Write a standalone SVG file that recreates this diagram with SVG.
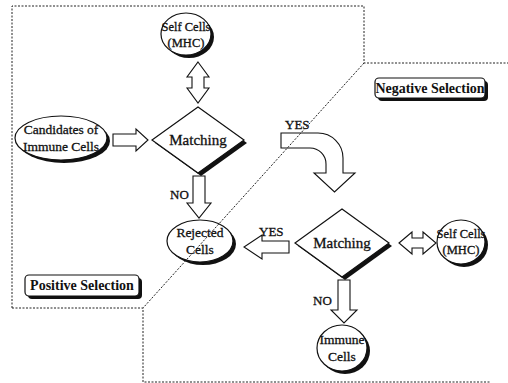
<svg xmlns="http://www.w3.org/2000/svg" width="508" height="383" viewBox="0 0 508 383" font-family="'Liberation Serif', 'DejaVu Serif', serif">
<style>
text{font-family:"Liberation Serif","DejaVu Serif",serif;font-size:13.5px;fill:#111;stroke:#111;stroke-width:0.3;text-anchor:middle}
.lbl{text-anchor:start;font-size:13px}
.sc{font-size:12.5px}
.node{fill:#fff;stroke:#111;stroke-width:1.2}
.sh{fill:#111;stroke:none}
.arr{fill:#fff;stroke:#111;stroke-width:1.1;stroke-linejoin:miter}
.border{fill:none;stroke:#222;stroke-width:1;stroke-dasharray:2 1.5}
.m{font-size:15px}
.sel{font-size:14px;font-weight:bold;stroke-width:0}
</style>
<rect width="508" height="383" fill="#fff"/>

<g id="self-cells-top">
<ellipse class="sh" cx="189" cy="37" rx="25" ry="21"/>
<ellipse class="node" cx="186" cy="34" rx="25" ry="21"/>
<text class="sc" x="186" y="31">Self Cells</text>
<text class="sc" x="186" y="47">(MHC)</text>
</g>

<g id="candidates">
<ellipse class="sh" cx="64" cy="141" rx="46" ry="22"/>
<ellipse class="node" cx="61" cy="138" rx="46" ry="22"/>
<text x="61" y="134">Candidates of</text>
<text x="61" y="151">Immune Cells</text>
</g>

<g id="matching-positive">
<polygon class="sh" points="201,110 247,143 201,176 155,143"/>
<polygon class="node" points="198,107 244,140 198,173 152,140"/>
<text class="m" x="198" y="145">Matching</text>
</g>

<g id="rejected-cells">
<ellipse class="sh" cx="203" cy="244" rx="33" ry="21"/>
<ellipse class="node" cx="200" cy="241" rx="33" ry="21"/>
<text x="200" y="237">Rejected</text>
<text x="200" y="254">Cells</text>
</g>

<g id="matching-negative">
<polygon class="sh" points="345,212 392,246 345,280 298,246"/>
<polygon class="node" points="342,209 389,243 342,277 295,243"/>
<text class="m" x="342" y="248">Matching</text>
</g>

<g id="self-cells-right">
<ellipse class="sh" cx="464" cy="245" rx="24" ry="22"/>
<ellipse class="node" cx="461" cy="242" rx="24" ry="22"/>
<text class="sc" x="461" y="238">Self Cells</text>
<text class="sc" x="461" y="254">(MHC)</text>
</g>

<g id="immune-cells">
<ellipse class="sh" cx="345" cy="351" rx="25" ry="23"/>
<ellipse class="node" cx="342" cy="348" rx="25" ry="23"/>
<text x="342" y="344">Immune</text>
<text x="342" y="361">Cells</text>
</g>

<g id="positive-selection-label">
<rect class="sh" x="28" y="278" width="114" height="21" rx="4"/>
<rect class="node" x="25" y="275" width="114" height="21" rx="4"/>
<text class="sel" x="82" y="290">Positive Selection</text>
</g>

<g id="negative-selection-label">
<rect class="sh" x="378" y="81" width="110" height="20" rx="4"/>
<rect class="node" x="375" y="78" width="110" height="20" rx="4"/>
<text class="sel" x="430" y="93">Negative Selection</text>
</g>

<g id="connectors">
<path class="arr" d="M198,62 L209,77 L204,77 L204,88 L209,88 L198,103 L187,88 L192,88 L192,77 L187,77 Z"/>
<path class="arr" d="M113,134 L136,134 L136,129 L148,140 L136,151 L136,146 L113,146 Z"/>
<path class="arr" d="M193,176 L205,176 L205,203 L211,203 L199,218 L187,203 L193,203 Z"/>
<text class="lbl" x="170" y="199">NO</text>
<path class="arr" d="M281,133 L318,133 A25,25 0 0 1 343,158 L343,173 L355,173 L334.5,192 L314,173 L326,173 L326,164 A16,16 0 0 0 310,148 L281,148 Z"/>
<text class="lbl" x="285" y="129">YES</text>
<path class="arr" d="M289,241 L262,241 L262,235 L244,247 L262,259 L262,253 L289,253 Z"/>
<text class="lbl" x="259" y="236">YES</text>
<path class="arr" d="M399,243 L412,232 L412,238 L423,238 L423,232 L436,243 L423,254 L423,248 L412,248 L412,254 Z"/>
<path class="arr" d="M338,280 L350,280 L350,310 L357,310 L344,323 L331,310 L338,310 Z"/>
<text class="lbl" x="313" y="305">NO</text>
</g>

<g id="region-borders">
<polyline class="border" points="12,308 12,6 364,6 364,63 508,63"/>
<polyline class="border" points="12,308 143,308 143,382 490,382"/>
<line class="border" x1="364" y1="63" x2="143" y2="308"/>
</g>
</svg>
